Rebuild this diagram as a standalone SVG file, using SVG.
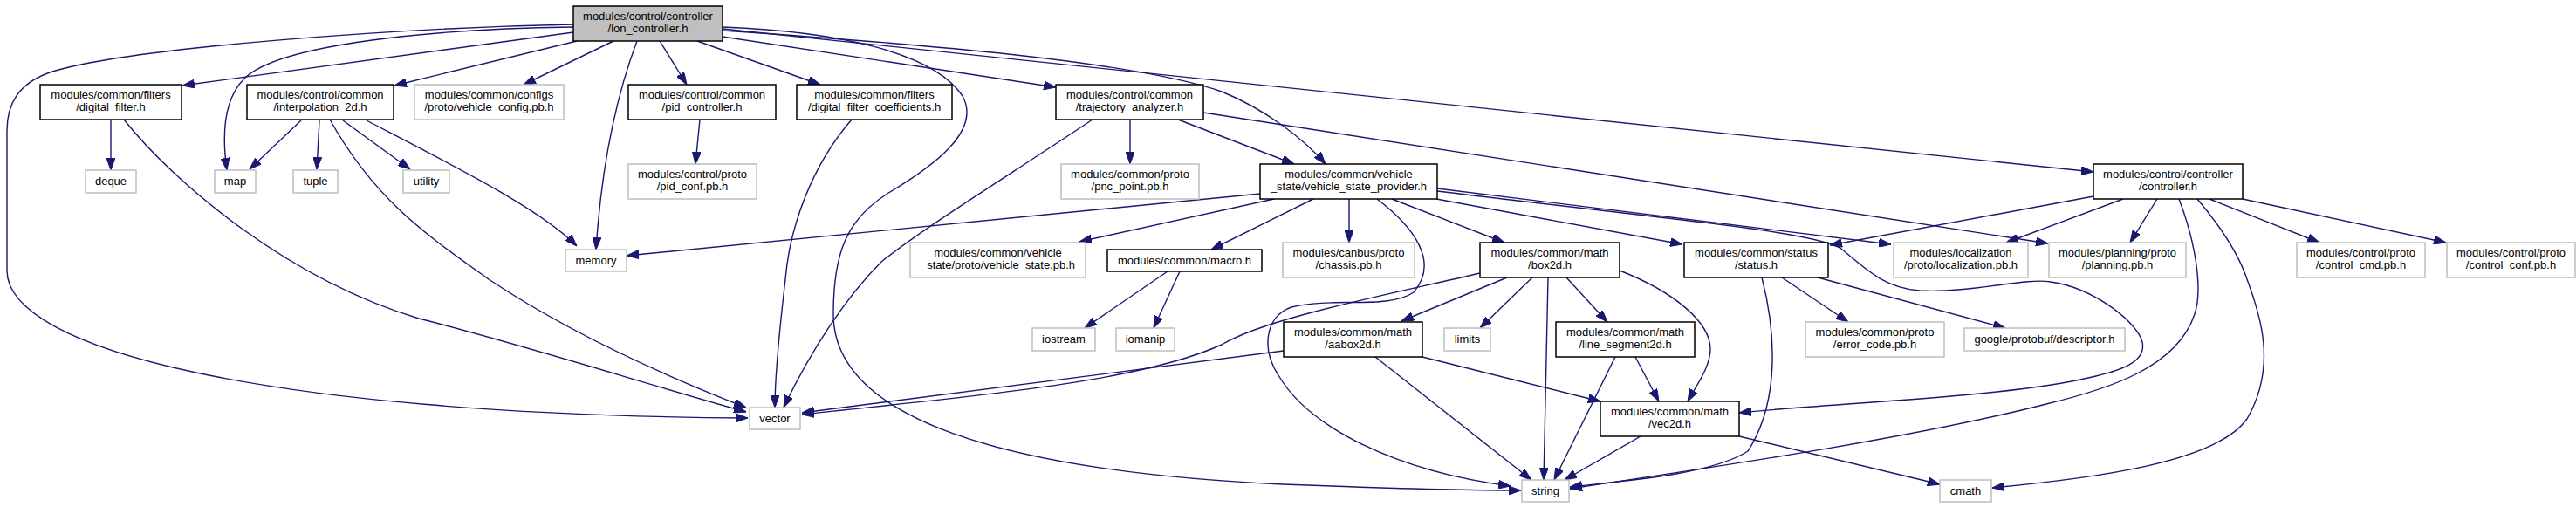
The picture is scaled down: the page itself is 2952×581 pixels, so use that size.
<svg xmlns="http://www.w3.org/2000/svg" width="2952" height="581" viewBox="0 0 2952 581">
<style>
.n rect{fill:#ffffff;stroke:#000000;stroke-width:1.5}
.g rect{fill:#ffffff;stroke:#bfbfbf;stroke-width:1.5}
.r rect{fill:#bfbfbf;stroke:#000000;stroke-width:1.5}
text{font-family:"Liberation Sans",Arial,Helvetica,sans-serif;font-size:13px;fill:#000000;text-anchor:middle}
#edges path{fill:none;stroke:#191970;stroke-width:1.4}
</style>
<defs>
<marker id="ah" viewBox="0 0 14 10" refX="14" refY="5" markerWidth="14" markerHeight="10" markerUnits="userSpaceOnUse" orient="auto">
<path d="M0,0 L14,5 L0,10 z" fill="#191970" stroke="#191970" stroke-width="1"/>
</marker>
</defs>
<rect x="0" y="0" width="2952" height="581" fill="#ffffff"/>
<g id="edges" marker-end="url(#ah)">
<path marker-end="url(#ah)" d="M657,37 L209,98"/>
<path marker-end="url(#ah)" d="M657,28 C450,32 150,55 60,82 C20,95 8,120 8,150 L8,310 C8,400 300,475 857,479"/>
<path marker-end="url(#ah)" d="M657,31 C500,33 320,50 280,90 C255,115 255,160 260,195"/>
<path marker-end="url(#ah)" d="M661,47 L452,98"/>
<path marker-end="url(#ah)" d="M703,47 L600,97"/>
<path marker-end="url(#ah)" d="M730,47 C710,100 690,180 683,286"/>
<path marker-end="url(#ah)" d="M756,47 L787,97"/>
<path marker-end="url(#ah)" d="M799,47 L940,97"/>
<path marker-end="url(#ah)" d="M828,42 L1210,100"/>
<path marker-end="url(#ah)" d="M828,31 C960,36 1070,60 1103,110 C1125,150 1070,190 1020,220 C970,250 955,290 955,360 C955,480 1150,540 1470,555 C1600,560 1680,562 1743,562"/>
<path marker-end="url(#ah)" d="M828,35 C1050,50 1300,70 1400,105 C1450,125 1495,160 1519,188"/>
<path marker-end="url(#ah)" d="M828,33 L2399,197"/>
<path marker-end="url(#ah)" d="M802,137 L797,188"/>
<path marker-end="url(#ah)" d="M976,137 C930,190 905,260 900,320 C893,380 888,430 888,467"/>
<path marker-end="url(#ah)" d="M127,137 L127,195"/>
<path marker-end="url(#ah)" d="M142,137 C200,210 330,320 480,365 C600,395 740,440 855,472"/>
<path marker-end="url(#ah)" d="M378,137 C430,230 490,270 560,320 C650,380 760,430 855,467"/>
<path marker-end="url(#ah)" d="M345,138 L286,194"/>
<path marker-end="url(#ah)" d="M366,138 L363,194"/>
<path marker-end="url(#ah)" d="M393,138 L470,194"/>
<path marker-end="url(#ah)" d="M420,138 C520,190 620,240 661,282"/>
<path marker-end="url(#ah)" d="M1295,137 L1295,188"/>
<path marker-end="url(#ah)" d="M1252,137 C1150,205 1060,260 1010,300 C970,340 930,400 898,467"/>
<path marker-end="url(#ah)" d="M1350,137 L1483,188"/>
<path marker-end="url(#ah)" d="M1379,129 L2347,279"/>
<path marker-end="url(#ah)" d="M1444,222 L718,293"/>
<path marker-end="url(#ah)" d="M1460,228 L1237,277"/>
<path marker-end="url(#ah)" d="M1505,228 L1388,286"/>
<path marker-end="url(#ah)" d="M1546,228 L1546,278"/>
<path marker-end="url(#ah)" d="M1595,228 L1724,278"/>
<path marker-end="url(#ah)" d="M1646,228 L1928,280"/>
<path marker-end="url(#ah)" d="M1647,216 L2167,280"/>
<path marker-end="url(#ah)" d="M1647,219 C1900,250 2080,265 2110,285 C2140,310 2160,330 2200,333 C2260,336 2320,318 2350,323 C2400,330 2450,370 2455,392 C2460,415 2430,425 2393,433 C2300,455 2100,462 1993,473"/>
<path marker-end="url(#ah)" d="M1578,228 C1620,260 1650,300 1620,335 C1590,355 1530,340 1480,352 C1450,362 1445,400 1465,430 C1500,490 1600,540 1731,557"/>
<path marker-end="url(#ah)" d="M1338,311 L1243,376"/>
<path marker-end="url(#ah)" d="M1352,311 L1322,376"/>
<path marker-end="url(#ah)" d="M1727,318 L1606,368"/>
<path marker-end="url(#ah)" d="M1756,318 L1696,376"/>
<path marker-end="url(#ah)" d="M1774,318 L1769,550"/>
<path marker-end="url(#ah)" d="M1795,318 L1842,369"/>
<path marker-end="url(#ah)" d="M1856,310 C1920,335 1960,370 1960,400 C1960,420 1945,440 1934,460"/>
<path marker-end="url(#ah)" d="M1696,313 C1580,340 1450,365 1400,395 C1300,440 1100,455 919,475"/>
<path marker-end="url(#ah)" d="M1471,402 L919,473"/>
<path marker-end="url(#ah)" d="M1576,409 L1755,550"/>
<path marker-end="url(#ah)" d="M1630,409 L1834,460"/>
<path marker-end="url(#ah)" d="M1874,409 L1901,460"/>
<path marker-end="url(#ah)" d="M1851,409 L1781,550"/>
<path marker-end="url(#ah)" d="M1880,500 L1793,550"/>
<path marker-end="url(#ah)" d="M1993,500 L2223,555"/>
<path marker-end="url(#ah)" d="M2019,318 C2035,380 2040,460 2003,517 C1960,545 1850,552 1799,558"/>
<path marker-end="url(#ah)" d="M2042,318 L2118,369"/>
<path marker-end="url(#ah)" d="M2083,318 L2298,376"/>
<path marker-end="url(#ah)" d="M2399,225 L2097,281"/>
<path marker-end="url(#ah)" d="M2433,228 L2299,278"/>
<path marker-end="url(#ah)" d="M2472,228 L2441,278"/>
<path marker-end="url(#ah)" d="M2532,228 L2658,278"/>
<path marker-end="url(#ah)" d="M2570,228 L2803,278"/>
<path marker-end="url(#ah)" d="M2497,228 C2515,275 2525,330 2515,360 C2495,420 2420,445 2345,463 C2200,500 2000,530 1799,560"/>
<path marker-end="url(#ah)" d="M2518,228 C2545,260 2565,290 2575,320 C2590,360 2610,420 2575,480 C2540,530 2400,548 2283,559"/>
</g>
<g id="node_lon_controller" class="r"><rect x="657" y="7" width="171" height="40"/><text x="742.5" y="23">modules/control/controller</text><text x="742.5" y="37">/lon_controller.h</text></g>
<g id="node_digital_filter" class="n"><rect x="46" y="97" width="162" height="40"/><text x="127" y="113">modules/common/filters</text><text x="127" y="127">/digital_filter.h</text></g>
<g id="node_interpolation_2d" class="n"><rect x="283" y="97" width="168" height="40"/><text x="367" y="113">modules/control/common</text><text x="367" y="127">/interpolation_2d.h</text></g>
<g id="node_vehicle_config" class="g"><rect x="475" y="97" width="171" height="40"/><text x="560.5" y="113">modules/common/configs</text><text x="560.5" y="127">/proto/vehicle_config.pb.h</text></g>
<g id="node_pid_controller" class="n"><rect x="720" y="97" width="169" height="40"/><text x="804.5" y="113">modules/control/common</text><text x="804.5" y="127">/pid_controller.h</text></g>
<g id="node_digital_filter_coefficients" class="n"><rect x="913" y="97" width="178" height="40"/><text x="1002" y="113">modules/common/filters</text><text x="1002" y="127">/digital_filter_coefficients.h</text></g>
<g id="node_trajectory_analyzer" class="n"><rect x="1210" y="97" width="169" height="40"/><text x="1294.5" y="113">modules/control/common</text><text x="1294.5" y="127">/trajectory_analyzer.h</text></g>
<g id="node_controller" class="n"><rect x="2399" y="188" width="171" height="40"/><text x="2484.5" y="204">modules/control/controller</text><text x="2484.5" y="218">/controller.h</text></g>
<g id="node_vehicle_state_provider" class="n"><rect x="1444" y="188" width="203" height="40"/><text x="1545.5" y="204">modules/common/vehicle</text><text x="1545.5" y="218">_state/vehicle_state_provider.h</text></g>
<g id="node_pid_conf" class="g"><rect x="720" y="188" width="147" height="40"/><text x="793.5" y="204">modules/control/proto</text><text x="793.5" y="218">/pid_conf.pb.h</text></g>
<g id="node_pnc_point" class="g"><rect x="1216" y="188" width="158" height="40"/><text x="1295" y="204">modules/common/proto</text><text x="1295" y="218">/pnc_point.pb.h</text></g>
<g id="node_deque" class="g"><rect x="98" y="195" width="58" height="26"/><text x="127" y="212">deque</text></g>
<g id="node_map" class="g"><rect x="246" y="195" width="47" height="26"/><text x="269.5" y="212">map</text></g>
<g id="node_tuple" class="g"><rect x="336" y="195" width="51" height="26"/><text x="361.5" y="212">tuple</text></g>
<g id="node_utility" class="g"><rect x="462" y="195" width="53" height="26"/><text x="488.5" y="212">utility</text></g>
<g id="node_memory" class="g"><rect x="648" y="286" width="70" height="25"/><text x="683" y="303">memory</text></g>
<g id="node_vehicle_state" class="g"><rect x="1043" y="278" width="201" height="40"/><text x="1143.5" y="294">modules/common/vehicle</text><text x="1143.5" y="308">_state/proto/vehicle_state.pb.h</text></g>
<g id="node_macro" class="n"><rect x="1269" y="286" width="177" height="25"/><text x="1357.5" y="303">modules/common/macro.h</text></g>
<g id="node_chassis" class="g"><rect x="1470" y="278" width="151" height="40"/><text x="1545.5" y="294">modules/canbus/proto</text><text x="1545.5" y="308">/chassis.pb.h</text></g>
<g id="node_box2d" class="n"><rect x="1696" y="278" width="160" height="40"/><text x="1776" y="294">modules/common/math</text><text x="1776" y="308">/box2d.h</text></g>
<g id="node_status" class="n"><rect x="1930" y="278" width="165" height="40"/><text x="2012.5" y="294">modules/common/status</text><text x="2012.5" y="308">/status.h</text></g>
<g id="node_localization" class="g"><rect x="2170" y="278" width="154" height="40"/><text x="2247" y="294">modules/localization</text><text x="2247" y="308">/proto/localization.pb.h</text></g>
<g id="node_planning" class="g"><rect x="2348" y="278" width="157" height="40"/><text x="2426.5" y="294">modules/planning/proto</text><text x="2426.5" y="308">/planning.pb.h</text></g>
<g id="node_control_cmd" class="g"><rect x="2632" y="278" width="147" height="40"/><text x="2705.5" y="294">modules/control/proto</text><text x="2705.5" y="308">/control_cmd.pb.h</text></g>
<g id="node_control_conf" class="g"><rect x="2804" y="278" width="147" height="40"/><text x="2877.5" y="294">modules/control/proto</text><text x="2877.5" y="308">/control_conf.pb.h</text></g>
<g id="node_iostream" class="g"><rect x="1183" y="376" width="72" height="26"/><text x="1219" y="393">iostream</text></g>
<g id="node_iomanip" class="g"><rect x="1279" y="376" width="67" height="26"/><text x="1312.5" y="393">iomanip</text></g>
<g id="node_aabox2d" class="n"><rect x="1471" y="369" width="159" height="40"/><text x="1550.5" y="385">modules/common/math</text><text x="1550.5" y="399">/aabox2d.h</text></g>
<g id="node_limits" class="g"><rect x="1655" y="376" width="53" height="26"/><text x="1681.5" y="393">limits</text></g>
<g id="node_line_segment2d" class="n"><rect x="1783" y="369" width="159" height="40"/><text x="1862.5" y="385">modules/common/math</text><text x="1862.5" y="399">/line_segment2d.h</text></g>
<g id="node_error_code" class="g"><rect x="2069" y="369" width="159" height="40"/><text x="2148.5" y="385">modules/common/proto</text><text x="2148.5" y="399">/error_code.pb.h</text></g>
<g id="node_descriptor" class="g"><rect x="2251" y="376" width="184" height="26"/><text x="2343" y="393">google/protobuf/descriptor.h</text></g>
<g id="node_vec2d" class="n"><rect x="1834" y="460" width="159" height="40"/><text x="1913.5" y="476">modules/common/math</text><text x="1913.5" y="490">/vec2d.h</text></g>
<g id="node_vector" class="g"><rect x="859" y="467" width="58" height="25"/><text x="888" y="484">vector</text></g>
<g id="node_string" class="g"><rect x="1744" y="550" width="54" height="25"/><text x="1771" y="567">string</text></g>
<g id="node_cmath" class="g"><rect x="2223" y="550" width="59" height="25"/><text x="2252.5" y="567">cmath</text></g>
</svg>
